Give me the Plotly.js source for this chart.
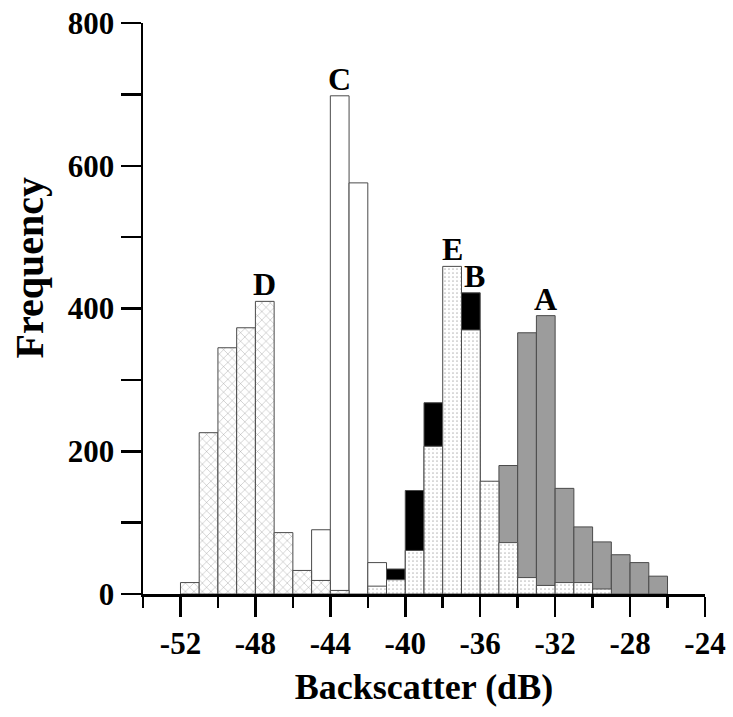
<!DOCTYPE html>
<html>
<head>
<meta charset="utf-8">
<script src="https://cdn.plot.ly/plotly-3.0.1.min.js"></script>
<style>html,body{margin:0;padding:0;background:#fff;}#chart{width:733px;height:717px;}</style>
</head>
<body>
<div id="chart"></div>
<script>
// Bin lower edges (dB), bin width 1 dB
var binStart = [-52,-51,-50,-49,-48,-47,-46,-45,-44,-43,-42,-41,-40,-39,-38,-37,-36,-35,-34,-33,-32,-31,-30,-29,-28,-27];
// Frequencies per class (null = no bar)
var seriesA = [null,null,null,null,null,null,null,null,null,null,null,null,null,null,null,null,null,180,366,390,148,94,73,55,44,25];
var seriesB = [null,null,null,null,null,null,null,null,null,null,null,35,145,268,null,422,null,null,null,null,null,null,null,null,null,null];
var seriesC = [null,null,null,null,null,null,null,90,698,576,44,null,null,null,null,null,null,null,null,null,null,null,null,null,null,null];
var seriesE = [null,null,null,null,null,null,null,null,null,null,11,20,61,207,459,370,158,72,23,12,16,16,7,null,null,null];
var seriesD = [16,226,345,373,410,86,33,19,5,null,null,null,null,null,null,null,null,null,null,null,null,null,null,null,null,null];
var xTicks = [-52,-48,-44,-40,-36,-32,-28,-24];
var yTicks = [0,200,400,600,800];
var labels = [
  {name:'A', bin:-33, series:seriesA, dx:-0.03},
  {name:'B', bin:-37, series:seriesB, dx:0.2},
  {name:'C', bin:-44, series:seriesC, dx:0},
  {name:'D', bin:-48, series:seriesD, dx:0},
  {name:'E', bin:-38, series:seriesE, dx:0}
];

var centers = binStart.map(function(b){return b+0.5;});
var FONT = 'Liberation Serif, Times New Roman, serif';
var lineStyle = {color:'#4a4a4a', width:1};

function barTrace(vals, marker){
  return {type:'bar', x:centers, y:vals, width:1, marker:marker, hoverinfo:'x+y', showlegend:false};
}

var traces = [
  barTrace(seriesA, {color:'#9c9c9c', line:lineStyle}),
  barTrace(seriesB, {color:'#000000', line:lineStyle}),
  barTrace(seriesC, {color:'#ffffff', line:lineStyle}),
  barTrace(seriesE, {color:'#ffffff', line:lineStyle, pattern:{shape:'.', fgcolor:'#bdbdbd', bgcolor:'#ffffff', size:4, solidity:0.15}}),
  barTrace(seriesD, {color:'#ffffff', line:lineStyle, pattern:{shape:'x', fgcolor:'#8a8a8a', bgcolor:'#ffffff', size:6, solidity:0.12}})
];

var annotations = labels.map(function(l){
  var i = binStart.indexOf(l.bin);
  return {x:l.bin+0.5+l.dx, y:l.series[i], xref:'x', yref:'y', text:l.name, showarrow:false,
    yanchor:'bottom', xanchor:'center', yshift:-3,
    font:{family:FONT, size:32, color:'#000', weight:'bold'}};
});
annotations.push({x:0, y:0.5, xref:'paper', yref:'paper', text:'Frequency', textangle:-90,
  showarrow:false, xanchor:'center', yanchor:'middle', xshift:-114, yshift:40,
  font:{family:FONT, size:40, color:'#000', weight:'bold'}});

var layout = {
  width:733, height:717,
  margin:{l:143, r:28, t:23, b:123, pad:0},
  paper_bgcolor:'#fff', plot_bgcolor:'#fff',
  barmode:'overlay', bargap:0,
  xaxis:{range:[-54,-24], tickvals:xTicks, ticktext:xTicks.map(String), ticks:'outside', ticklen:20, tickwidth:2.5,
    tickcolor:'#000', showline:true, linecolor:'#000', linewidth:2.5, showgrid:false, zeroline:false,
    minor:{tickvals:[-54,-50,-46,-42,-38,-34,-30,-26], ticks:'outside', ticklen:11, tickwidth:2.5, tickcolor:'#000', showgrid:false},
    tickfont:{family:FONT, size:31, color:'#000', weight:'bold'},
    title:{text:'Backscatter (dB)', font:{family:FONT, size:36, color:'#000', weight:'bold'}, standoff:14}},
  yaxis:{range:[0,800], tickvals:yTicks, ticktext:yTicks.map(String), ticks:'outside', ticklen:20, tickwidth:2.5,
    tickcolor:'#000', showline:true, linecolor:'#000', linewidth:2.5, showgrid:false, zeroline:false,
    minor:{tickvals:[100,300,500,700], ticks:'outside', ticklen:20, tickwidth:2.5, tickcolor:'#000', showgrid:false},
    tickfont:{family:FONT, size:31, color:'#000', weight:'bold'}},
  annotations:annotations
};

Plotly.newPlot('chart', traces, layout, {staticPlot:true, displayModeBar:false});
</script>
</body>
</html>
